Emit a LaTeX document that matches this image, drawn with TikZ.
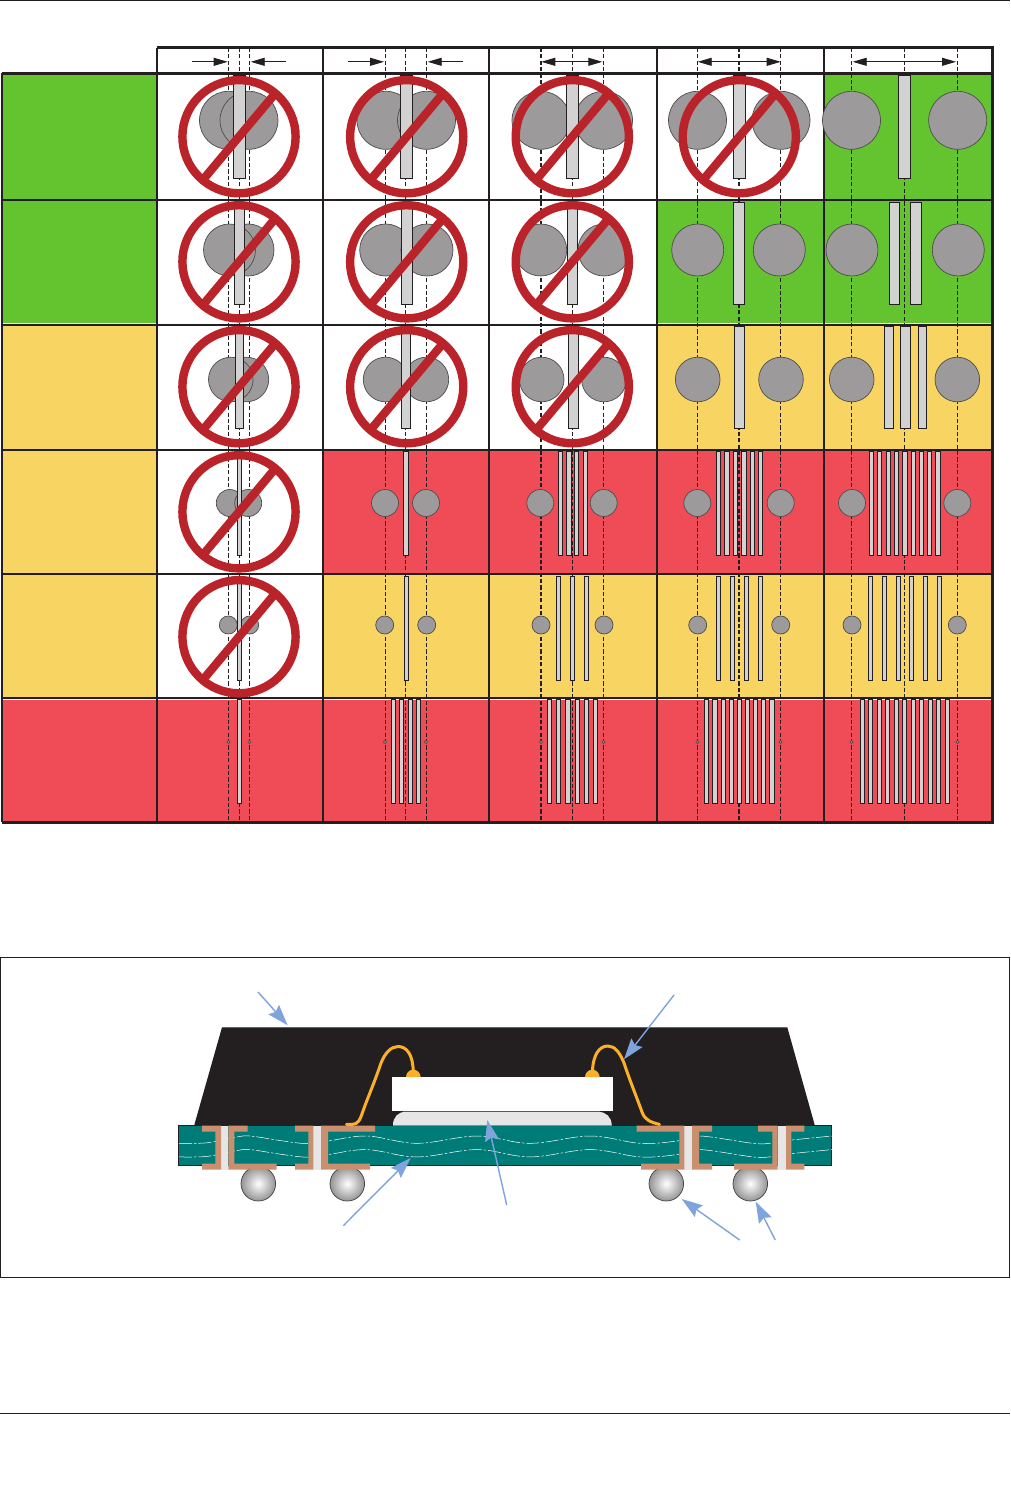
\documentclass[tikz,border=0pt]{standalone}
\usetikzlibrary{arrows.meta}
\definecolor{ink}{HTML}{231F20}
\definecolor{cgreen}{HTML}{63C430}
\definecolor{cyellow}{HTML}{F8D462}
\definecolor{cred}{HTML}{F04C58}
\definecolor{cgray}{HTML}{9C9A9A}
\definecolor{crect}{HTML}{D2D2D2}
\definecolor{csign}{HTML}{BA2329}
\definecolor{cteal}{HTML}{007C78}
\definecolor{ccopper}{HTML}{C98F6F}
\definecolor{cwire}{HTML}{FBB029}
\definecolor{cblue}{HTML}{7FA3DC}
\definecolor{cgap}{HTML}{E6E6E6}
\tikzset{
  gridline/.style={draw=ink,line width=2.3pt},
  gridouter/.style={draw=ink,line width=3pt},
  guide/.style={draw=ink,line width=0.9pt,dash pattern=on 4.2pt off 2.2pt},
  guideheavy/.style={guide,line width=1.6pt},
  ballc/.style={fill=cgray,draw=ink!80,line width=0.7pt},
  barrect/.style={fill=crect,draw=ink,line width=1pt},
  signring/.style={draw=csign,line width=8.4pt},
  dimarrow/.style={draw=ink,line width=0.9pt},
  dimtip/.style={-{Stealth[length=14pt,width=8pt,inset=0pt,fill=ink]}},
  dimboth/.style={{Stealth[length=14pt,width=8pt,inset=0pt,fill=ink]}-{Stealth[length=14pt,width=8pt,inset=0pt,fill=ink]}},
  callout/.style={draw=cblue,line width=1.4pt,-{Stealth[length=21pt,width=14pt,inset=3pt]}},
  copper/.style={fill=ccopper},
  viagap/.style={fill=cgap},
  wirepath/.style={draw=cwire,line width=3pt,line cap=round},
  wavepath/.style={draw=white,line width=0.5pt,dash pattern=on 13pt off 2pt on 2.5pt off 2pt}
}
\newcommand\cellbox[5]{\fill[#5] (#1,#3) rectangle (#2,#4);}
\newcommand\rowrects[3]{\foreach \a/\b in {#3} {\draw[barrect] (\a,#1) rectangle (\b,#2);}}
\newcommand\rowballs[3]{\foreach \c in {#3} {\draw[ballc] (\c,#1) circle (#2);}}
\newcommand\nosign[2]{\begin{scope}[shift={(#1,#2)}]\draw[signring] (0,0) circle (56.6);\draw[signring] (-36.6,43.7) -- (36.6,-43.7);\end{scope}}
\begin{document}
\begin{tikzpicture}[x=1pt,y=-1pt]
\useasboundingbox (0,0) rectangle (1010,1489);
\fill[white] (0,0) rectangle (1010,1489);
% page rules
\draw[ink,line width=1pt] (0,0.5) -- (1010,0.5);
\draw[ink,line width=0.8pt] (0,1413.5) -- (1010,1413.5);
% left column
\cellbox{2}{157}{74}{198.8}{cgreen}
\cellbox{2}{157}{201}{322.8}{cgreen}
\cellbox{2}{157}{325.8}{448.5}{cyellow}
\cellbox{2}{157}{451}{572.7}{cyellow}
\cellbox{2}{157}{575}{697}{cyellow}
\cellbox{2}{157}{699.5}{821}{cred}
% coloured cells
\cellbox{824.3}{992}{74}{199}{cgreen}
\cellbox{656.7}{992}{201}{322.8}{cgreen}
\cellbox{656.7}{992}{325.8}{448.5}{cyellow}
\cellbox{323.3}{992}{451}{572.7}{cred}
\cellbox{323.3}{992}{575}{697}{cyellow}
\cellbox{157}{992}{699.5}{821}{cred}
% guides
\foreach \g in {228.5,239.5,249.5,385,405.5,426,572,697.5,780.5,851.5,904.5,957.5} {\draw[guide] (\g,47.7) -- (\g,822);}
\foreach \g in {541,603.5,739} {\draw[guideheavy] (\g,47.7) -- (\g,822);}
% grid
\foreach \r in {200,324.7,449.7,573.7,698.3} {\draw[gridline] (2,\r) -- (992.7,\r);}
\draw[gridouter] (2,73) -- (992.7,73);
\draw[gridouter] (2,822) -- (992.7,822);
\draw[gridouter] (156.7,47.7) -- (992.7,47.7);
\foreach \v in {323.3,489,656.7,824.3} {\draw[gridline] (\v,47.7) -- (\v,822);}
\draw[gridline] (156.7,47.7) -- (156.7,822);
\draw[gridouter] (992.7,46.2) -- (992.7,823.5);
\draw[draw=ink,line width=1.8pt] (2,73) -- (2,822);
% header arrows
\coordinate (h1a) at (192,61.8); \coordinate (h1b) at (227.7,61.8);
\coordinate (h1c) at (286,61.8); \coordinate (h1d) at (250.7,61.8);
\coordinate (h2a) at (348,61.8); \coordinate (h2b) at (384,61.8);
\coordinate (h2c) at (463,61.8); \coordinate (h2d) at (427.7,61.8);
\coordinate (h3a) at (541.3,61.8); \coordinate (h3b) at (602.3,61.8);
\coordinate (h4a) at (697.7,61.8); \coordinate (h4b) at (780.7,61.8);
\coordinate (h5a) at (852.7,61.8); \coordinate (h5b) at (956,61.8);
\draw[dimarrow,dimtip] (h1a) -- (h1b);
\draw[dimarrow,dimtip] (h1c) -- (h1d);
\draw[dimarrow,dimtip] (h2a) -- (h2b);
\draw[dimarrow,dimtip] (h2c) -- (h2d);
\draw[dimarrow,dimboth] (h3a) -- (h3b);
\draw[dimarrow,dimboth] (h4a) -- (h4b);
\draw[dimarrow,dimboth] (h5a) -- (h5b);
% row 1
\rowballs{120.3}{29}{228.5,249,386,426.5,541,603.5,697.5,781,851.5,957.7}
\rowrects{75}{178.3}{233.4/245.6,400.6/412.7,566.4/578.7,733.4/745.6,898.4/910.6}
% row 2
\rowballs{250}{26}{248,229.5,385.7,427,540.7,604,697.7,779.3,852,958.3}
\rowrects{202.3}{304.3}{234.4/244.7,401.4/412.7,567.4/577.7,733.4/744.7,889.4/899.7,910.4/921.7}
% row 3
\rowballs{379.5}{22.3}{246.4,230.8,385.6,426.4,541.7,604,697.7,781,851.7,957.3}
\rowrects{326.5}{428.5}{235.4/243.7,401.4/410.7,568.4/578,734.4/744,884.4/893.7,900.4/910,918.4/926.7}
% row 4
\rowballs{503}{13.5}{229.8,248.2,385,426,540.3,603.7,697.3,780.7,852,957.3}
\rowrects{451.3}{555}{237.4/241.7,403.4/408.7,558.4/562.7,566.4/571,574.4/578.7,583.4/587.7,716.4/720.7,724.4/729,733.4/737.7,741.4/746,750.4/754.7,758.4/762.7,869.4/873.7,877.4/881.7,886.4/890.7,894.4/898.7,902.4/907,911.4/915.7,919.4/923.7,927.4/931.7,935.7/940.7}
% row 5
\rowballs{625}{9}{228.3,249.7,384.7,426.7,541,604,697.7,780.7,852,957.3}
\rowrects{576.3}{680.3}{237.4/241.7,404.4/408.7,556.4/560.7,570.4/574.7,584.4/588.7,716.4/720.7,730.4/734.7,744.4/748.7,758.4/762.7,868.4/872.7,882.4/886.7,896.4/900.7,909.4/913.7,923.4/927.7,937.4/941.7}
% row 6
\rowballs{742}{1.7}{228.5,249.5,385,426,541,603.5,697.5,780.5,851.5,957.5}
\rowrects{699.5}{803.5}{237.4/241.7,391.4/395.7,399.4/403.7,408.4/412.7,416.4/420.7,547.4/551.7,556.4/560.7,565.4/570.7,575.4/579.7,584.4/588.7,593.4/597.7,704.4/708.7,712.4/717.7,721.4/725.7,729.4/733.7,737.4/741.7,745.4/749.7,753.4/757.7,761.4/765.7,769.4/774.7,860.4/864.7,868.4/872.7,877.4/881.7,885.4/889.7,894.4/898.7,902.4/906.7,911.4/915.7,919.4/923.7,928.4/932.7,936.4/940.7,945.4/949.7}
% prohibition signs
\nosign{239}{136.7}\nosign{406.7}{136.7}\nosign{572.3}{136.7}\nosign{739.3}{136.7}
\nosign{239}{261.8}\nosign{406.7}{261.8}\nosign{572.3}{261.8}
\nosign{239}{386.7}\nosign{406.7}{386.7}\nosign{572.3}{386.7}
\nosign{239}{511.8}
\nosign{239}{636.7}
% lower panel
\draw[ink,line width=0.8pt] (0.5,957) rectangle (1009.5,1277);
% solder balls
\foreach \b in {258.3,347.3,666.3,750.3} {\path[draw=ink!85,line width=0.7pt,inner color=white,outer color=black!42] (\b,1183.7) circle (17.3);}
% moulding
\fill[ink] (222,1027.3) -- (787.3,1027.3) -- (815,1126) -- (194,1126) -- cycle;
\draw[black!60,line width=0.6pt] (222,1027.3) -- (787.3,1027.3);
% substrate
\draw[fill=cteal,draw=ink,line width=0.8pt] (178.3,1125.4) rectangle (831.7,1165.4);
\foreach \d in {0,13.6} {
\draw[wavepath,yshift=-\d pt] plot[smooth,tension=0.6] coordinates {(179,1143.3) (207,1142.8) (235,1137.3) (250,1136) (280,1140.5) (306,1143.5) (328,1141) (367,1136) (417,1143.3) (477,1136) (530,1143.3) (590,1136) (640,1143.3) (677,1141) (700,1136) (753,1143.3) (772,1143) (792,1140) (832,1136)};
}
% adhesive and die
\fill[cgap] (393,1125.4) .. controls (393,1117) and (398,1111.8) .. (406,1111.8) -- (598,1111.8) .. controls (606,1111.8) and (611.7,1117) .. (611.7,1125.4) -- cycle;
\draw[black!65,line width=0.7pt] (403,1111.6) -- (600,1111.6);
\draw[black!45,line width=0.7pt] (393,1125.5) -- (611.7,1125.5);
\fill[white] (392,1077) rectangle (613,1110.8);
% vias
\foreach \a/\b in {221/228.3,313.3/321,684.3/692,777.7/786} {\fill[viagap] (\a,1125.7) rectangle (\b,1169.5);}
% via 1
\fill[copper] (202,1125.7) -- (221,1125.7) -- (221,1169.5) -- (202,1169.5) -- (202,1163.7) -- (215.3,1163.7) -- (215.3,1131.7) -- (202,1131.7) -- cycle;
\fill[copper] (228.3,1125.7) -- (247.7,1125.7) -- (247.7,1131.7) -- (234.3,1131.7) -- (234.3,1163.7) -- (276.7,1163.7) -- (276.7,1169.5) -- (228.3,1169.5) -- cycle;
% via 2
\fill[copper] (295,1125.7) -- (313.3,1125.7) -- (313.3,1169.5) -- (295,1169.5) -- (295,1163.7) -- (308.3,1163.7) -- (308.3,1131.7) -- (295,1131.7) -- cycle;
\fill[copper] (321,1125.7) -- (375,1125.7) -- (375,1131.7) -- (328,1131.7) -- (328,1163.7) -- (370,1163.7) -- (370,1169.5) -- (321,1169.5) -- cycle;
% via 3
\fill[copper] (636.7,1125.7) -- (684.3,1125.7) -- (684.3,1169.5) -- (641,1169.5) -- (641,1163.7) -- (679.3,1163.7) -- (679.3,1131.7) -- (636.7,1131.7) -- cycle;
\fill[copper] (692,1125.7) -- (712,1125.7) -- (712,1131.7) -- (699,1131.7) -- (699,1163.7) -- (712,1163.7) -- (712,1169.5) -- (692,1169.5) -- cycle;
% via 4
\fill[copper] (758,1125.7) -- (777.7,1125.7) -- (777.7,1169.5) -- (734,1169.5) -- (734,1163.7) -- (772.3,1163.7) -- (772.3,1131.7) -- (758,1131.7) -- cycle;
\fill[copper] (786,1125.7) -- (804.3,1125.7) -- (804.3,1131.7) -- (791.3,1131.7) -- (791.3,1163.7) -- (804.3,1163.7) -- (804.3,1169.5) -- (786,1169.5) -- cycle;
% wires
\fill[cwire] (406,1077) arc[start angle=180,end angle=360,radius=7.3] -- cycle;
\fill[cwire] (585,1077) arc[start angle=180,end angle=360,radius=7.3] -- cycle;
\draw[wirepath] (346.5,1124.4) -- (352,1124.4) .. controls (358,1124.4) and (360,1120) .. (363,1111) .. controls (368,1097) and (375,1081) .. (381,1063) .. controls (385,1053) and (391,1046.5) .. (398,1046.5) .. controls (407,1046.5) and (413,1055) .. (413.3,1072);
\draw[wirepath] (659.5,1124.4) .. controls (650,1122) and (645,1120) .. (642,1112) .. controls (637,1098) and (630,1081) .. (624,1063) .. controls (620,1053) and (615,1046) .. (608,1046) .. controls (599,1046) and (593,1055) .. (592.4,1072);
% callouts
\coordinate (c1a) at (258,992); \coordinate (c1b) at (287.7,1025.3);
\coordinate (c2a) at (674,995); \coordinate (c2b) at (624,1059.3);
\coordinate (c3a) at (343.3,1225.7); \coordinate (c3b) at (410.7,1158);
\coordinate (c4a) at (506.7,1205); \coordinate (c4b) at (487.3,1120);
\coordinate (c5a) at (739.7,1240); \coordinate (c5b) at (681.7,1199);
\coordinate (c6a) at (775.3,1240); \coordinate (c6b) at (755.7,1201.7);
\draw[callout] (c1a) -- (c1b);
\draw[callout] (c2a) -- (c2b);
\draw[callout] (c3a) -- (c3b);
\draw[callout] (c4a) -- (c4b);
\draw[callout] (c5a) -- (c5b);
\draw[callout] (c6a) -- (c6b);
\end{tikzpicture}
\end{document}
